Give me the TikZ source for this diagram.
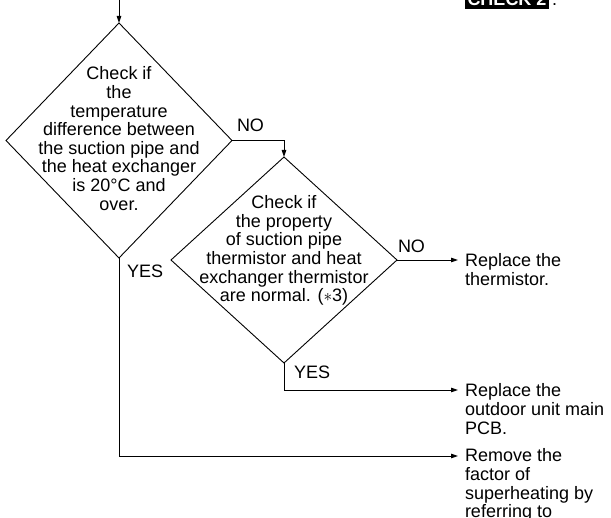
\documentclass[tikz,border=0pt]{standalone}
\usepackage{fontspec}
\setmainfont{Liberation Sans}
\usetikzlibrary{shapes.geometric,arrows.meta}
\begin{document}
\begin{tikzpicture}[x=1pt,y=-1pt,line width=0.9pt,
  every node/.style={font=\fontsize{18}{18.6}\selectfont, inner sep=0pt, outer sep=0pt},
  dia/.style={shape=diamond, draw, inner sep=0pt, outer sep=0pt},
  lbl/.style={anchor=base west},
  txt/.style={align=left, anchor=base west},
  arr/.style={-{Triangle[length=7pt,width=4.5pt]}}]
\useasboundingbox (0,0) rectangle (611,518);
% decisions
\node[dia, minimum width=226pt, minimum height=235pt] (d1) at (119,140.5) {};
\node[dia, minimum width=226pt, minimum height=206pt] (d2) at (284,260) {};
\node[align=center] (q1) at (119,138.5) {Check if\\the\\temperature\\difference between\\the suction pipe and\\the heat exchanger\\is 20°C and\\over.};
\node[align=center] (q2) at (284,250.5) {Check if\\the property\\of suction pipe\\thermistor and heat\\exchanger thermistor\\are normal. ($\ast$3)};
% header
\node[fill=black, text=white, font=\fontsize{18}{18.6}\selectfont\bfseries, inner xsep=2.5pt, inner ysep=3pt, anchor=base west] (chk) at (465,6) {CHECK 2};
\node[lbl] (dot) at (552,6) {.};
% results (base = baseline of last line)
\node[txt] (t1) at (465,285.6) {Replace the\\thermistor.};
\node[txt] (t2) at (465,434.2) {Replace the\\outdoor unit main\\PCB.};
\node[txt] (t3) at (465,517.8) {Remove the\\factor of\\superheating by\\referring to};
% labels
\node[lbl] (no1) at (237,132) {NO};
\node[lbl] (yes1) at (127,278) {YES};
\node[lbl] (no2) at (398,253) {NO};
\node[lbl] (yes2) at (294,379) {YES};
% connectors
\coordinate (top) at (119,-1);
\coordinate (e1) at (458,260);
\coordinate (e2) at (458,390);
\coordinate (e3) at (458,456);
\draw[arr] (top) -- (d1.north);
\draw[arr] (d1.east) -| (d2.north);
\draw[arr] (d2.east) -- (e1);
\draw[arr] (d2.south) |- (e2);
\draw[arr] (d1.south) |- (e3);
\end{tikzpicture}
\end{document}
